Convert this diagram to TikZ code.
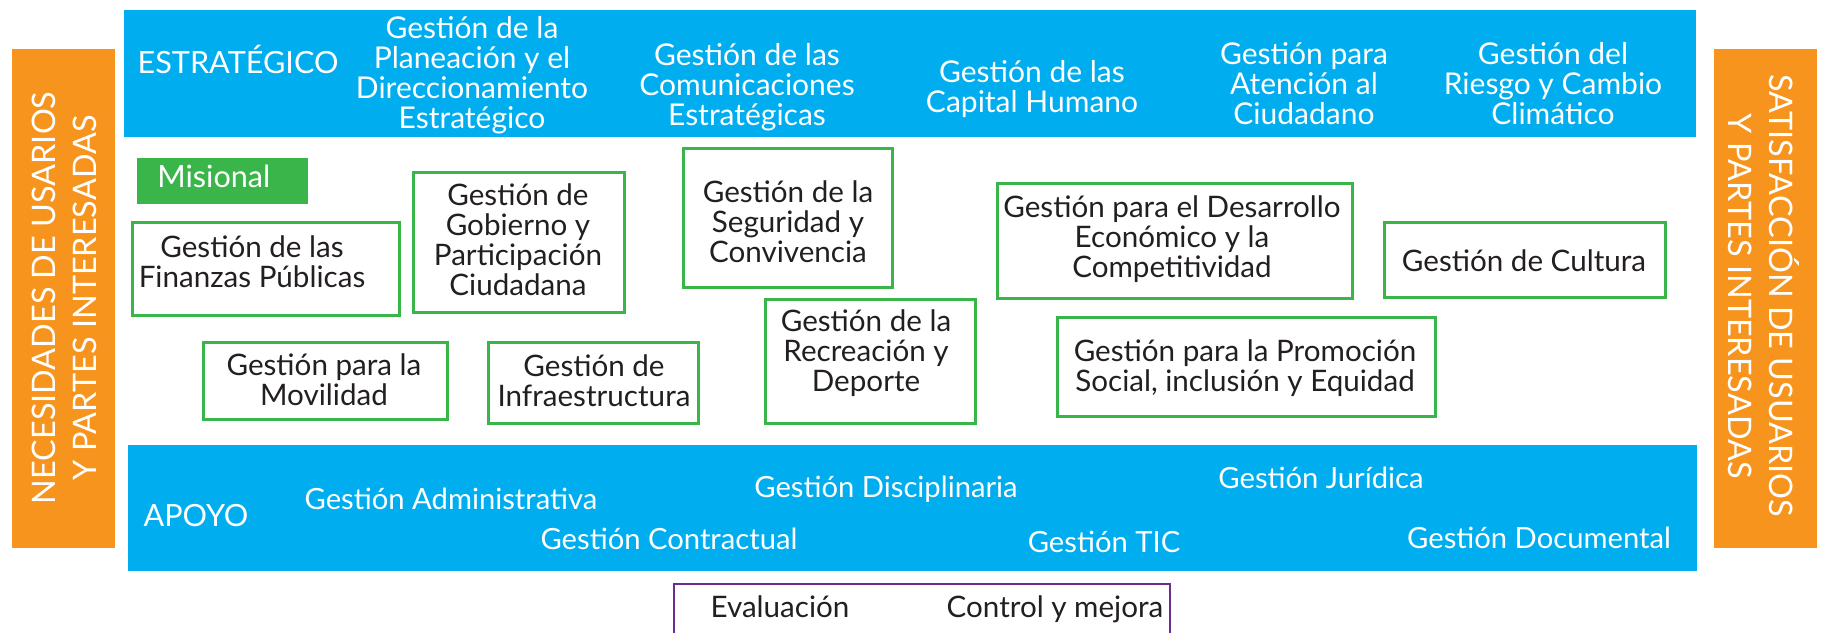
\documentclass[tikz,border=0pt]{standalone}
\usepackage{fontspec}
\setmainfont{Lato}
\usepackage{tikz}

\definecolor{azulproc}{HTML}{00AEEF}
\definecolor{naranja}{HTML}{F7941D}
\definecolor{verde}{HTML}{39B54A}
\definecolor{morado}{HTML}{6A2C91}
\definecolor{tinta}{HTML}{231F20}

\tikzset{
  franja/.style={fill=azulproc},
  lado/.style={fill=naranja},
  caja/.style={draw=verde, line width=1.5pt},
  blanco/.style={text=white, align=center, inner sep=0pt, font=\fontsize{15}{15}\selectfont},
  apoyotxt/.style={text=white, inner sep=0pt, anchor=base, font=\fontsize{14.6}{15}\selectfont},
  negro/.style={text=tinta, align=center, inner sep=0pt, font=\fontsize{14.8}{15}\selectfont},
  titulo/.style={text=white, inner sep=0pt, font=\fontsize{15.3}{18}\selectfont},
  vertical/.style={text=white, align=center, inner sep=0pt, font=\fontsize{16.2}{20.5}\selectfont}
}

\begin{document}
\begin{tikzpicture}[x=0.5pt, y=-0.5pt]
\useasboundingbox (0,0) rectangle (1824,632);

\fill[lado] (12,49) rectangle (115,548);
\fill[lado] (1714,49) rectangle (1817,548);
\node[vertical, rotate=90] (necesidades) at (64,298) {NECESIDADES DE USARIOS\\Y PARTES INTERESADAS};
\node[vertical, rotate=-90] (satisfaccion) at (1764,296) {SATISFACCIÓN DE USUARIOS\\Y PARTES INTERESADAS};

\fill[franja] (124,10) rectangle (1696,137);
\node[titulo, anchor=base] (estrategico) at (238,73) {ESTRATÉGICO};
\node[blanco] (planeacion) at (472,75) {Gestión de la\\Planeación y el\\Direccionamiento\\Estratégico};
\node[blanco] (comunicaciones) at (747,87) {Gestión de las\\Comunicaciones\\Estratégicas};
\node[blanco] (humano) at (1032,89) {Gestión de las\\Capital Humano};
\node[blanco] (atencion) at (1304,84) {Gestión para\\Atención al\\Ciudadano};
\node[blanco] (riesgo) at (1553,84) {Gestión del\\Riesgo y Cambio\\Climático};

\fill[verde] (137,158) rectangle (308,204);
\node[titulo, anchor=base west] (misional) at (157,187) {Misional};

\draw[caja] (132,222) rectangle (399,315);
\node[negro] (finanzas) at (252,262) {Gestión de las\\Finanzas Públicas};
\draw[caja] (413,172) rectangle (624,312);
\node[negro] (gobierno) at (518,240) {Gestión de\\Gobierno y\\Participación\\Ciudadana};
\draw[caja] (683,148) rectangle (892,287);
\node[negro] (seguridad) at (788,222) {Gestión de la\\Seguridad y\\Convivencia};
\draw[caja] (997,183) rectangle (1352,298);
\node[negro] (desarrollo) at (1172,239) {Gestión para el Desarrollo\\Económico y la\\Competitividad};
\draw[caja] (1384,222) rectangle (1665,297);
\node[negro] (cultura) at (1524,261) {Gestión de Cultura};
\draw[caja] (203,342) rectangle (447,419);
\node[negro] (movilidad) at (324,380) {Gestión para la\\Movilidad};
\draw[caja] (488,342) rectangle (698,423);
\node[negro] (infraestructura) at (594,381) {Gestión de\\Infraestructura};
\draw[caja] (765,299) rectangle (975,423);
\node[negro] (recreacion) at (866,353) {Gestión de la\\Recreación y\\Deporte};
\draw[caja] (1057,317) rectangle (1435,416);
\node[negro] (promocion) at (1245,368) {Gestión para la Promoción\\Social, inclusión y Equidad};

\fill[franja] (128,445) rectangle (1697,571);
\node[titulo, anchor=base] (apoyo) at (196,526) {APOYO};
\node[apoyotxt] (administrativa) at (451,509) {Gestión Administrativa};
\node[apoyotxt] (contractual) at (669,549) {Gestión Contractual};
\node[apoyotxt] (disciplinaria) at (886,497) {Gestión Disciplinaria};
\node[apoyotxt] (tic) at (1104,552) {Gestión TIC};
\node[apoyotxt] (juridica) at (1321,488) {Gestión Jurídica};
\node[apoyotxt] (documental) at (1539,548) {Gestión Documental};

\draw[morado, line width=1.3pt] (674,650) -- (674,584) -- (1170,584) -- (1170,650);
\node[negro, anchor=base] (evaluacion) at (780,617) {Evaluación};
\node[negro, anchor=base] (control) at (1055,617) {Control y mejora};
\end{tikzpicture}
\end{document}
